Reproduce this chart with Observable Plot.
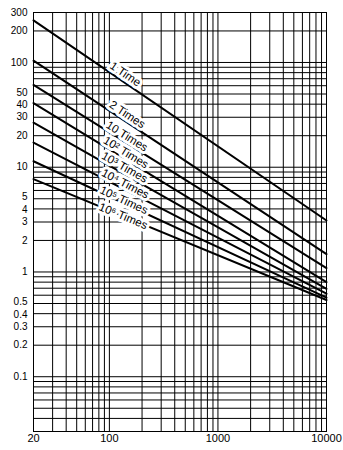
<!DOCTYPE html>
<html><head><meta charset="utf-8">
<script src="https://cdn.jsdelivr.net/npm/d3@7"></script>
<script src="https://cdn.jsdelivr.net/npm/@observablehq/plot@0.6"></script>
<style>body{margin:0;background:#fff} svg{display:block}</style>
</head><body><div id="chart"></div>
<script>
// Series: straight lines on log-log axes, given by their values at x = 20 and x = 10000
const seriesLabels = ["1 Time","2 Times","10 Times","10² Times","10³ Times","10⁴ Times","10⁵ Times","10⁶ Times"];
const xStart = 20;
const xEnd = 10000;
const yAtStart = [252, 104, 61, 41, 26.6, 17.2, 11.4, 7.7];
const yAtEnd = [3.1, 1.48, 1.09, 0.80, 0.69, 0.62, 0.57, 0.54];
const labelX = [140, 146, 145, 142, 138, 140, 136, 134];

const xTicks = [20, 100, 1000, 10000];
const yTicksMain = [300, 200, 100, 30, 20, 10, 3, 2, 1, 0.3, 0.2, 0.1];
const yTicksFive = [50, 5, 0.5];
const yTicksFour = [40, 4, 0.4];
const xGrid = [20,30,40,50,60,70,80,90,100,200,300,400,500,600,700,800,900,1000,2000,3000,4000,5000,6000,7000,8000,9000,10000];
const yGrid = [0.03,0.04,0.05,0.06,0.07,0.08,0.09,0.1,0.2,0.3,0.4,0.5,0.6,0.7,0.8,0.9,1,2,3,4,5,6,7,8,9,10,20,30,40,50,60,70,80,90,100,200,300];

const W = 343, H = 450, mL = 33, mR = 17, mT = 12, mB = 19;
const xDomain = [20, 10000], yDomain = [0.03, 300];
// how far (screen px, upward) each label sits above its line
const labelLift = [9, 8, 7, 7, 7, 6, 3, 0];

const lines = seriesLabels.flatMap((s, i) => [
  {x: xStart, y: yAtStart[i], s},
  {x: xEnd, y: yAtEnd[i], s}
]);

const pxPerDecX = (W - mL - mR) / Math.log10(xDomain[1] / xDomain[0]);
const pxPerDecY = (H - mT - mB) / Math.log10(yDomain[1] / yDomain[0]);
const labelData = seriesLabels.map((s, i) => {
  const slope = Math.log10(yAtEnd[i] / yAtStart[i]) / Math.log10(xEnd / xStart);
  const t = Math.log10(labelX[i] / xStart) / Math.log10(xEnd / xStart);
  const yLine = Math.pow(10, Math.log10(yAtStart[i]) + t * Math.log10(yAtEnd[i] / yAtStart[i]));
  const y = yLine * Math.pow(10, labelLift[i] / pxPerDecY);
  const angle = Math.atan(-slope * pxPerDecY / pxPerDecX) * 180 / Math.PI;
  return {x: labelX[i], y, s, angle};
});

const tickText = (vals, dy) => Plot.text(vals, {y: d => d, text: d => String(d), frameAnchor: "left",
  textAnchor: "end", dx: -6, dy, fontSize: 10, fill: "black"});

const chart = Plot.plot({
  width: W, height: H,
  marginLeft: mL, marginRight: mR, marginTop: mT, marginBottom: mB,
  style: {fontFamily: "'Liberation Sans', Arial, sans-serif", fontSize: "11px", background: "white", color: "black"},
  x: {type: "log", domain: xDomain, axis: null},
  y: {type: "log", domain: yDomain, axis: null},
  marks: [
    Plot.ruleX(xGrid, {stroke: "black", strokeWidth: 1}),
    Plot.ruleY(yGrid, {stroke: "black", strokeWidth: 1}),
    Plot.line(lines, {x: "x", y: "y", z: "s", stroke: "black", strokeWidth: 2}),
    Plot.text(labelData, {x: "x", y: "y", text: "s", rotate: "angle",
      fill: "black", stroke: "white", strokeWidth: 6, fontSize: 11.5, textAnchor: "middle", lineAnchor: "middle"}),
    Plot.frame({stroke: "black"}),
    tickText(yTicksMain, 0),
    tickText(yTicksFive, -1.5),
    tickText(yTicksFour, 1),
    Plot.text(xTicks, {x: d => d, text: d => String(d), frameAnchor: "bottom", lineAnchor: "top", dy: 3, fontSize: 11, fill: "black"})
  ]
});
document.getElementById("chart").append(chart);
</script>
</body></html>
